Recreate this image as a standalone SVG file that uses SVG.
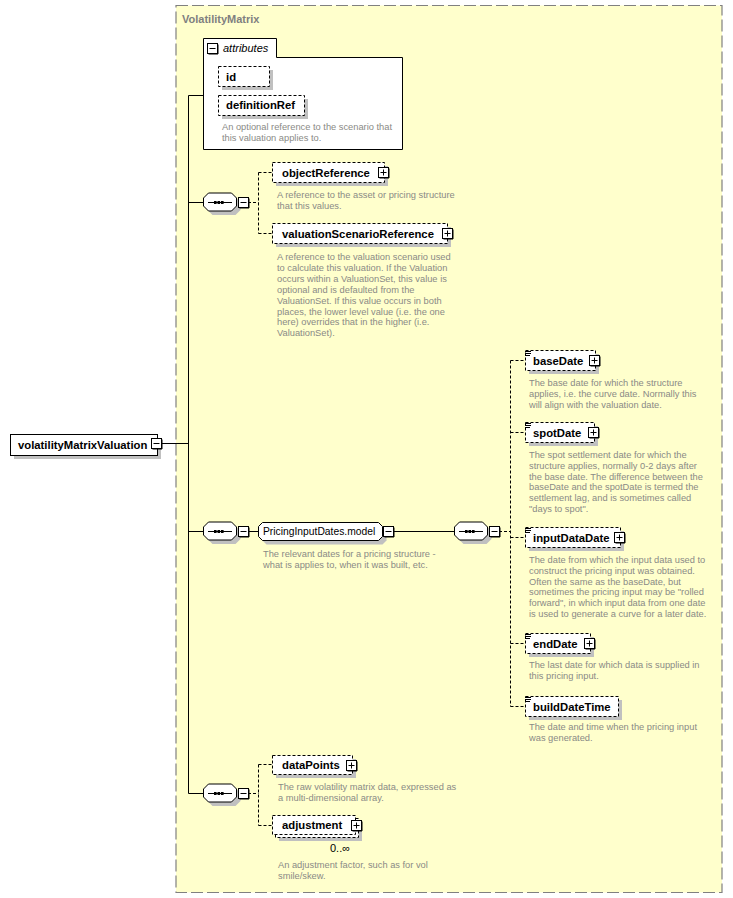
<svg xmlns="http://www.w3.org/2000/svg" width="733" height="898" viewBox="0 0 733 898">
<style>
text{font-family:"Liberation Sans",Arial,sans-serif}
.lbl{font-size:11.3px;font-weight:bold;fill:#000}
.grp{font-size:10.3px;fill:#000}
.desc{font-size:9.3px;fill:#8a8a86}
.ttl{font-size:11px;font-weight:bold;fill:#808080}
.sh{fill:#c0c0c0}
.opt{fill:#fff;stroke:#000;stroke-width:1;stroke-dasharray:3 2}
.req{fill:#fff;stroke:#000;stroke-width:1}
.ln{fill:none;stroke:#000;stroke-width:1}
.dl{fill:none;stroke:#000;stroke-width:1;stroke-dasharray:3 2}
</style>
<defs>
<g id="plus"><path d="M11 1.5V11H1.5" class="ln"/><rect x="0.5" y="0.5" width="10" height="10" class="req"/><path d="M2.5 5.5h6M5.5 2.5v6" class="ln"/></g>
<g id="minus"><path d="M11 1.5V11H1.5" class="ln"/><rect x="0.5" y="0.5" width="10" height="10" class="req"/><path d="M2.5 5.5h6" class="ln"/></g>
<g id="eq"><path d="M0 0.5h6M0 2.5h6M0 4.5h5" class="ln"/></g>
<g id="seq">
<polygon class="sh" points="9.5,-5 32.5,-5 37.5,0 37.5,8 32.5,13 9.5,13 4.5,8 4.5,0"/>
<polygon class="req" points="5.5,-9 28.5,-9 33.5,-4 33.5,4 28.5,9 5.5,9 0.5,4 0.5,-4"/>
<path d="M5 0.5h24" class="ln"/>
<rect x="11" y="-1" width="2.6" height="3" fill="#000"/>
<rect x="14.5" y="-1" width="2.6" height="3" fill="#000"/>
<rect x="18" y="-1" width="2.6" height="3" fill="#000"/>
<use href="#minus" x="35" y="-5"/>
</g>
</defs>

<rect x="176" y="5.5" width="546" height="887" fill="#ffffcc" stroke="#808080" stroke-width="1.2" stroke-dasharray="12 4"/>
<text class="ttl" x="182" y="23">VolatilityMatrix</text>

<g id="connectors">
<path class="ln" d="M161 443.5H188.5M188.5 95.5V793.5M188.5 95.5H203.5M188.5 202.5H203M188.5 531.5H203M188.5 793.5H203"/>
<path class="dl" d="M248 202.5H258.5M258.5 172.5V233.5M258.5 172.5H272M258.5 233.5H272"/>
<path class="ln" d="M248 531.5H258.5M393 531.5H454"/>
<path class="dl" d="M499 531.5H510.5M510.5 360.5V706.5M510.5 360.5H525M510.5 432.5H525M510.5 537.5H525M510.5 643.5H525M510.5 706.5H525"/>
<path class="dl" d="M248 793.5H258.5M258.5 764.5V825.5M258.5 764.5H272M258.5 825.5H272"/>
</g>

<g id="volatilityMatrixValuation">
<rect class="sh" x="14" y="438" width="147" height="21"/>
<rect class="req" x="10.5" y="434.5" width="147" height="21"/>
<text class="lbl" x="18" y="449">volatilityMatrixValuation</text>
<use href="#minus" x="151" y="438"/>
</g>

<g id="attributes">
<path class="req" d="M203.5 149.5V38.5H276.5V57.5H402.5V149.5Z"/>
<use href="#minus" x="207" y="43"/>
<text x="223" y="52" font-size="11" font-style="italic" fill="#000">attributes</text>
</g>
<g id="attr-id">
<rect class="sh" x="222" y="70" width="51" height="20"/>
<rect class="opt" x="218.5" y="66.5" width="51" height="20"/>
<text class="lbl" x="226" y="81">id</text>
</g>
<g id="attr-definitionRef">
<rect class="sh" x="222" y="99" width="86" height="20"/>
<rect class="opt" x="218.5" y="95.5" width="86" height="20"/>
<text class="lbl" x="226" y="109">definitionRef</text>
<text class="desc" x="222" y="130">An optional reference to the scenario that</text>
<text class="desc" x="222" y="141">this valuation applies to.</text>
</g>

<g id="seq1"><use href="#seq" x="203" y="202"/></g>

<g id="objectReference">
<rect class="sh" x="276" y="166" width="112" height="20"/>
<rect class="opt" x="272.5" y="162.5" width="112" height="20"/>
<text class="lbl" x="282" y="177">objectReference</text>
<use href="#plus" x="378" y="167"/>
<text class="desc" x="277" y="198">A reference to the asset or pricing structure</text>
<text class="desc" x="277" y="209">that this values.</text>
</g>

<g id="valuationScenarioReference">
<rect class="sh" x="276" y="227" width="175" height="20"/>
<rect class="opt" x="272.5" y="223.5" width="175" height="20"/>
<text class="lbl" x="282" y="238">valuationScenarioReference</text>
<use href="#plus" x="442" y="228"/>
<text class="desc" x="277" y="260">A reference to the valuation scenario used</text>
<text class="desc" x="277" y="271">to calculate this valuation. If the Valuation</text>
<text class="desc" x="277" y="282">occurs within a ValuationSet, this value is</text>
<text class="desc" x="277" y="293">optional and is defaulted from the</text>
<text class="desc" x="277" y="304">ValuationSet. If this value occurs in both</text>
<text class="desc" x="277" y="315">places, the lower level value (i.e. the one</text>
<text class="desc" x="277" y="325">here) overrides that in the higher (i.e.</text>
<text class="desc" x="277" y="336">ValuationSet).</text>
</g>

<g id="seq2"><use href="#seq" x="203" y="531"/></g>

<g id="PricingInputDates.model">
<polygon class="sh" points="266.5,526.5 382.5,526.5 386.5,530.5 386.5,540.5 382.5,544.5 266.5,544.5 262.5,540.5 262.5,530.5"/>
<polygon class="req" points="262.5,522.5 378.5,522.5 382.5,526.5 382.5,536.5 378.5,540.5 262.5,540.5 258.5,536.5 258.5,526.5"/>
<text class="grp" x="263" y="535">PricingInputDates.model</text>
<use href="#minus" x="383" y="526"/>
<text class="desc" x="263" y="557">The relevant dates for a pricing structure -</text>
<text class="desc" x="263" y="568">what is applies to, when it was built, etc.</text>
</g>

<g id="seq3"><use href="#seq" x="454" y="531"/></g>

<g id="baseDate">
<rect class="sh" x="529" y="354" width="70" height="20"/>
<rect class="opt" x="525.5" y="350.5" width="70" height="20"/>
<use href="#eq" x="525" y="351"/>
<text class="lbl" x="533" y="365">baseDate</text>
<use href="#plus" x="589" y="355"/>
<text class="desc" x="529" y="386">The base date for which the structure</text>
<text class="desc" x="529" y="397">applies, i.e. the curve date. Normally this</text>
<text class="desc" x="529" y="408">will align with the valuation date.</text>
</g>

<g id="spotDate">
<rect class="sh" x="529" y="426" width="69" height="20"/>
<rect class="opt" x="525.5" y="422.5" width="69" height="20"/>
<use href="#eq" x="525" y="423"/>
<text class="lbl" x="533" y="437">spotDate</text>
<use href="#plus" x="588" y="427"/>
<text class="desc" x="529" y="458">The spot settlement date for which the</text>
<text class="desc" x="529" y="469">structure applies, normally 0-2 days after</text>
<text class="desc" x="529" y="480">the base date. The difference between the</text>
<text class="desc" x="529" y="490">baseDate and the spotDate is termed the</text>
<text class="desc" x="529" y="501">settlement lag, and is sometimes called</text>
<text class="desc" x="529" y="512">"days to spot".</text>
</g>

<g id="inputDataDate">
<rect class="sh" x="529" y="531" width="95" height="20"/>
<rect class="opt" x="525.5" y="527.5" width="95" height="20"/>
<use href="#eq" x="525" y="528"/>
<text class="lbl" x="533" y="542">inputDataDate</text>
<use href="#plus" x="614" y="532"/>
<text class="desc" x="529" y="563">The date from which the input data used to</text>
<text class="desc" x="529" y="574">construct the pricing input was obtained.</text>
<text class="desc" x="529" y="585">Often the same as the baseDate, but</text>
<text class="desc" x="529" y="595">sometimes the pricing input may be "rolled</text>
<text class="desc" x="529" y="606">forward", in which input data from one date</text>
<text class="desc" x="529" y="617">is used to generate a curve for a later date.</text>
</g>

<g id="endDate">
<rect class="sh" x="529" y="637" width="65" height="20"/>
<rect class="opt" x="525.5" y="633.5" width="65" height="20"/>
<use href="#eq" x="525" y="634"/>
<text class="lbl" x="533" y="648">endDate</text>
<use href="#plus" x="584" y="638"/>
<text class="desc" x="529" y="668">The last date for which data is supplied in</text>
<text class="desc" x="529" y="679">this pricing input.</text>
</g>

<g id="buildDateTime">
<rect class="sh" x="529" y="700" width="93" height="20"/>
<rect class="opt" x="525.5" y="696.5" width="93" height="20"/>
<use href="#eq" x="525" y="697"/>
<text class="lbl" x="533" y="711">buildDateTime</text>
<text class="desc" x="529" y="730">The date and time when the pricing input</text>
<text class="desc" x="529" y="741">was generated.</text>
</g>

<g id="seq4"><use href="#seq" x="203" y="793"/></g>

<g id="dataPoints">
<rect class="sh" x="276" y="759" width="80" height="19"/>
<rect class="opt" x="272.5" y="755.5" width="80" height="19"/>
<text class="lbl" x="282" y="769">dataPoints</text>
<use href="#plus" x="346" y="760"/>
<text class="desc" x="278" y="790">The raw volatility matrix data, expressed as</text>
<text class="desc" x="278" y="801">a multi-dimensional array.</text>
</g>

<g id="adjustment">
<rect class="sh" x="279" y="822" width="83" height="19"/>
<rect class="opt" x="275.5" y="818.5" width="83" height="19"/>
<rect class="opt" x="272.5" y="815.5" width="83" height="19"/>
<text class="lbl" x="282" y="829">adjustment</text>
<use href="#plus" x="351" y="820"/>
<text x="330" y="852" font-size="11" fill="#000">0..∞</text>
<text class="desc" x="278" y="868">An adjustment factor, such as for vol</text>
<text class="desc" x="278" y="879">smile/skew.</text>
</g>
</svg>
